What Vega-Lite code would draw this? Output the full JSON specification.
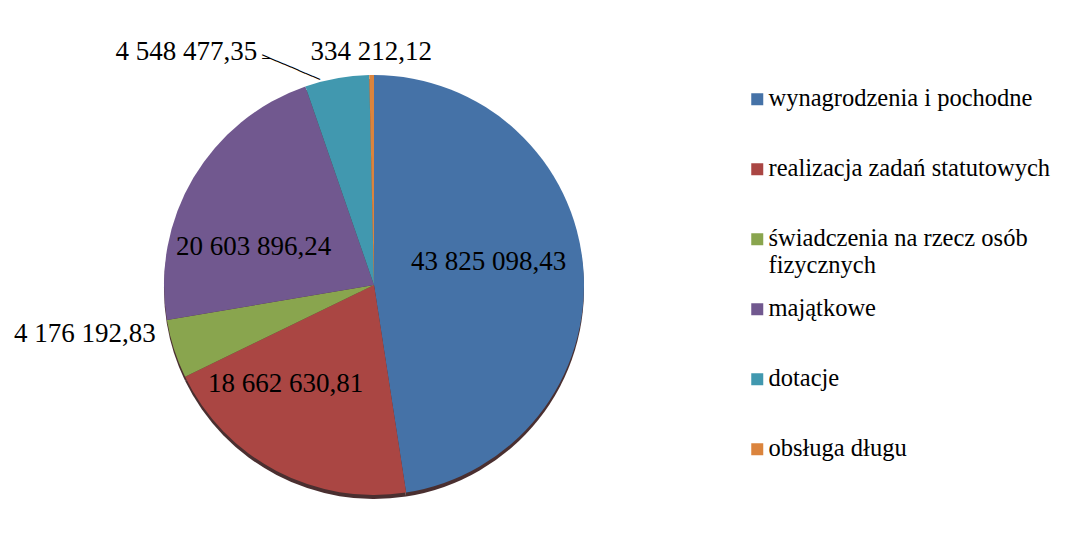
{
  "$schema": "https://vega.github.io/schema/vega-lite/v6.json",
  "width": 732,
  "height": 552,
  "autosize": {"type": "none"},
  "padding": {"left": 8, "top": 9, "right": 326, "bottom": 0},
  "background": "white",
  "config": {
    "view": {"stroke": null},
    "font": "Liberation Serif",
    "text": {"font": "Liberation Serif"},
    "locale": {"number": {"decimal": ",", "thousands": " ", "grouping": [3], "currency": ["", ""]}}
  },
  "data": {
    "values": [
      {"kategoria": "wynagrodzenia i pochodne", "wartosc": 43825098.43, "kolejnosc": 1},
      {"kategoria": "realizacja zadań statutowych", "wartosc": 18662630.81, "kolejnosc": 2},
      {"kategoria": "świadczenia na rzecz osób fizycznych", "wartosc": 4176192.83, "kolejnosc": 3},
      {"kategoria": "majątkowe", "wartosc": 20603896.24, "kolejnosc": 4},
      {"kategoria": "dotacje", "wartosc": 4548477.35, "kolejnosc": 5},
      {"kategoria": "obsługa długu", "wartosc": 334212.12, "kolejnosc": 6}
    ]
  },
  "encoding": {
    "theta": {"field": "wartosc", "type": "quantitative", "stack": true},
    "order": {"field": "kolejnosc", "type": "quantitative", "sort": "ascending"}
  },
  "layer": [
    {
      "mark": {"type": "arc", "outerRadius": 210, "yOffset": 4},
      "encoding": {"detail": {"field": "kategoria"}, "fill": {"value": "#4a2f30"}}
    },
    {
      "mark": {"type": "arc", "outerRadius": 210},
      "encoding": {
        "color": {
          "field": "kategoria",
          "type": "nominal",
          "scale": {
            "domain": ["wynagrodzenia i pochodne", "realizacja zadań statutowych", "świadczenia na rzecz osób fizycznych", "majątkowe", "dotacje", "obsługa długu"],
            "range": ["#4572A7", "#AA4643", "#89A54E", "#71588F", "#4198AF", "#DB843D"]
          },
          "legend": {
            "title": null,
            "orient": "none",
            "legendX": 737,
            "legendY": 78,
            "padding": 0,
            "symbolType": "square",
            "symbolSize": 144,
            "symbolStrokeWidth": 0,
            "labelFont": "Liberation Serif",
            "labelFontSize": 24.5,
            "labelColor": "#000000",
            "labelLimit": 400,
            "labelOffset": -1,
            "labelBaseline": "alphabetic",
            "gridAlign": "all",
            "rowPadding": 18,
            "labelExpr": "datum.label == 'świadczenia na rzecz osób fizycznych' ? ['świadczenia na rzecz osób', 'fizycznych'] : datum.label",
            "encode": {"labels": {"update": {"dy": {"value": 7}}}}
          }
        }
      }
    },
    {
      "mark": {"type": "text", "font": "Liberation Serif", "radius": 117, "dx": -2, "dy": -14, "fontSize": 27, "align": "center", "baseline": "middle", "color": "#000"},
      "encoding": {"detail": {"field": "kategoria"}, "text": {"condition": {"test": "datum.kolejnosc == 1", "field": "wartosc", "type": "quantitative", "format": ",.2f"}, "value": ""}}
    },
    {
      "mark": {"type": "text", "font": "Liberation Serif", "radius": 132, "dx": -27, "dy": -18, "fontSize": 27, "align": "center", "baseline": "middle", "color": "#000"},
      "encoding": {"detail": {"field": "kategoria"}, "text": {"condition": {"test": "datum.kolejnosc == 2", "field": "wartosc", "type": "quantitative", "format": ",.2f"}, "value": ""}}
    },
    {
      "mark": {"type": "text", "font": "Liberation Serif", "radius": 225, "dx": -4, "dy": -19, "fontSize": 27, "align": "right", "baseline": "middle", "color": "#000"},
      "encoding": {"detail": {"field": "kategoria"}, "text": {"condition": {"test": "datum.kolejnosc == 3", "field": "wartosc", "type": "quantitative", "format": ",.2f"}, "value": ""}}
    },
    {
      "mark": {"type": "text", "font": "Liberation Serif", "radius": 126, "dx": -12, "dy": 26, "fontSize": 27, "align": "center", "baseline": "middle", "color": "#000"},
      "encoding": {"detail": {"field": "kategoria"}, "text": {"condition": {"test": "datum.kolejnosc == 4", "field": "wartosc", "type": "quantitative", "format": ",.2f"}, "value": ""}}
    },
    {
      "mark": {"type": "text", "font": "Liberation Serif", "radius": 236, "dx": -75, "dy": -1, "fontSize": 27, "align": "right", "baseline": "middle", "color": "#000"},
      "encoding": {"detail": {"field": "kategoria"}, "text": {"condition": {"test": "datum.kolejnosc == 5", "field": "wartosc", "type": "quantitative", "format": ",.2f"}, "value": ""}}
    },
    {
      "mark": {"type": "text", "font": "DejaVu Sans", "radius": 229, "dx": -36, "dy": 24, "angle": 23, "fontSize": 13, "align": "center", "baseline": "middle", "color": "#000"},
      "encoding": {"detail": {"field": "kategoria"}, "text": {"condition": {"test": "datum.kolejnosc == 5", "value": "────────"}, "value": ""}}
    },
    {
      "mark": {"type": "text", "font": "DejaVu Sans", "radius": 236, "dx": -66, "dy": 6, "fontSize": 13, "align": "center", "baseline": "middle", "color": "#000"},
      "encoding": {"detail": {"field": "kategoria"}, "text": {"condition": {"test": "datum.kolejnosc == 5", "value": "─"}, "value": ""}}
    },
    {
      "mark": {"type": "text", "font": "Liberation Serif", "radius": 233, "dx": 0, "dy": 0, "fontSize": 27, "align": "center", "baseline": "middle", "color": "#000"},
      "encoding": {"detail": {"field": "kategoria"}, "text": {"condition": {"test": "datum.kolejnosc == 6", "field": "wartosc", "type": "quantitative", "format": ",.2f"}, "value": ""}}
    }
  ]
}
